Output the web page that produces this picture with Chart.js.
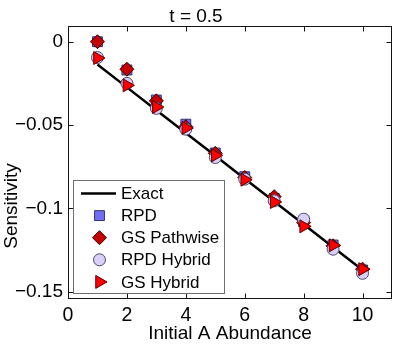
<!DOCTYPE html>
<html>
<head>
<meta charset="utf-8">
<script src="https://cdn.jsdelivr.net/npm/chart.js@4/dist/chart.umd.min.js"></script>
<style>
  html, body { margin: 0; padding: 0; background: #fff; }
  #wrap { width: 415px; height: 349px; }
</style>
</head>
<body>
<div id="wrap"><canvas id="sens"></canvas></div>
<script>
// values
var abundance = [1, 2, 3, 4, 5, 6, 7, 8, 9, 10];
var exact       = [-0.0137, -0.0274, -0.0411, -0.0548, -0.0685, -0.0822, -0.0959, -0.1096, -0.1233, -0.1370];
var rpd         = [0.0000, -0.0170, -0.0350, -0.0495, -0.0668, -0.0810, -0.0940, -0.1080, -0.1220, -0.1370];
var gsPathwise  = [0.0000, -0.0165, -0.0355, -0.0510, -0.0670, -0.0815, -0.0930, -0.1085, -0.1225, -0.1365];
var rpdHybrid   = [-0.0095, -0.0250, -0.0400, -0.0525, -0.0695, -0.0825, -0.0955, -0.1065, -0.1245, -0.1390];
var gsHybrid    = [-0.0098, -0.0262, -0.0392, -0.0518, -0.0682, -0.0828, -0.0962, -0.1108, -0.1222, -0.1365];
var xTicks = [0, 2, 4, 6, 8, 10];
var yTicks = [-0.15, -0.1, -0.05, 0];
var yLabel = 'Sensitivity';

var FONT = '"Liberation Sans", Arial, Helvetica, sans-serif';

function pts(ys) {
    return abundance.map(function(x, i) { return {x: x, y: ys[i]}; });
}

function fmtTick(v) {
    if (v === 0) return '0';
    return '\u2212' + String(Math.abs(v));
}

// MATLAB style box with ticks pointing inwards
var axesBox = {
    id: 'axesBox',
    afterDatasetsDraw: function(chart) {
        var ctx = chart.ctx, a = chart.chartArea;
        var xs = chart.scales.x, ys = chart.scales.y;
        var L = Math.round(a.left) + 0.5, R = Math.round(a.right) - 0.5;
        var T = Math.round(a.top) + 0.5, B = Math.round(a.bottom) - 0.5;
        ctx.save();
        ctx.strokeStyle = '#111';
        ctx.lineWidth = 1;
        ctx.strokeRect(L, T, R - L, B - T);
        ctx.beginPath();
        xTicks.forEach(function(v) {
            var px = Math.round(xs.getPixelForValue(v)) + 0.5;
            ctx.moveTo(px, B); ctx.lineTo(px, B - 5);
            ctx.moveTo(px, T); ctx.lineTo(px, T + 5);
        });
        yTicks.forEach(function(v) {
            var py = Math.round(ys.getPixelForValue(v)) + 0.5;
            ctx.moveTo(L, py); ctx.lineTo(L + 5, py);
            ctx.moveTo(R, py); ctx.lineTo(R - 5, py);
        });
        ctx.stroke();

        // y label sits low on the axis in the original
        ctx.fillStyle = '#000';
        ctx.font = '19px ' + FONT;
        ctx.textAlign = 'center';
        ctx.textBaseline = 'middle';
        ctx.translate(12, 206);
        ctx.rotate(-Math.PI / 2);
        ctx.fillText(yLabel, 0, 0);
        ctx.restore();
    }
};

// legend box in the lower left corner of the axes
var boxLegend = {
    id: 'boxLegend',
    afterDraw: function(chart) {
        var ctx = chart.ctx;
        var bx = 73.5, by = 180.5, bw = 151, bh = 113;
        var rowH = 22.1, sx = 99.5, tx = 121;
        ctx.save();
        ctx.fillStyle = '#fff';
        ctx.fillRect(bx, by, bw, bh);
        ctx.strokeStyle = '#6e6e6e';
        ctx.lineWidth = 1;
        ctx.strokeRect(bx, by, bw, bh);
        ctx.font = '17px ' + FONT;
        ctx.textBaseline = 'middle';
        chart.data.datasets.forEach(function(ds, i) {
            var y = by + 13 + i * rowH;
            if (ds.showLine) {
                ctx.strokeStyle = ds.borderColor;
                ctx.lineWidth = ds.borderWidth;
                ctx.beginPath();
                ctx.moveTo(81, y); ctx.lineTo(116, y);
                ctx.stroke();
            } else {
                ctx.fillStyle = ds.pointBackgroundColor;
                ctx.strokeStyle = ds.pointBorderColor;
                ctx.lineWidth = ds.pointBorderWidth;
                Chart.helpers.drawPoint(ctx, {
                    pointStyle: ds.pointStyle,
                    rotation: ds.pointRotation || 0,
                    radius: ds.pointRadius,
                    borderWidth: ds.pointBorderWidth
                }, sx, y);
            }
            ctx.fillStyle = '#000';
            ctx.fillText(ds.label, tx, y + 1);
        });
        ctx.restore();
    }
};

function markers(label, ys, style, fill, edge, radius, rot, order) {
    return {
        label: label,
        data: pts(ys),
        showLine: false,
        pointStyle: style,
        pointRotation: rot,
        pointRadius: radius,
        pointHoverRadius: radius,
        pointBackgroundColor: fill,
        pointBorderColor: edge,
        pointBorderWidth: 1,
        order: order
    };
}

var config = {
    type: 'scatter',
    data: {
        datasets: [
            {
                label: 'Exact',
                data: pts(exact),
                showLine: true,
                borderColor: '#000',
                borderWidth: 2.5,
                pointRadius: 0,
                order: 5
            },
            markers('RPD', rpd, 'rect', '#6f6ff5', '#33337a', 7, 0, 4),
            markers('GS Pathwise', gsPathwise, 'rectRot', '#c40000', '#3a0000', 7, 0, 3),
            markers('RPD Hybrid', rpdHybrid, 'circle', '#d9cff7', '#4a4a70', 6, 0, 2),
            markers('GS Hybrid', gsHybrid, 'triangle', '#ff0000', '#5a0000', 7.5, 90, 1)
        ]
    },
    options: {
        responsive: true,
        maintainAspectRatio: false,
        animation: false,
        layout: { padding: { top: 0, right: 23, left: 0, bottom: 0 } },
        plugins: {
            legend: { display: false },
            tooltip: { enabled: false },
            title: {
                display: true,
                text: 't = 0.5',
                color: '#000',
                font: { family: FONT, size: 19, weight: 'normal', lineHeight: 0.95 },
                padding: { top: 8, bottom: 0 }
            }
        },
        scales: {
            x: {
                type: 'linear',
                min: 0,
                max: 11,
                afterBuildTicks: function(s) { s.ticks = xTicks.map(function(v) { return {value: v}; }); },
                afterFit: function(s) { s.height = 50; },
                grid: { display: false, drawTicks: false },
                border: { display: false },
                ticks: {
                    color: '#000',
                    padding: 5,
                    maxRotation: 0,
                    font: { family: FONT, size: 19.5 },
                    callback: function(v) { return String(v); }
                },
                title: {
                    display: true,
                    text: 'Initial A Abundance',
                    color: '#000',
                    font: { family: FONT, size: 19 },
                    padding: { top: 0, bottom: 4 }
                }
            },
            y: {
                type: 'linear',
                min: -0.1544,
                max: 0.0094,
                afterBuildTicks: function(s) { s.ticks = yTicks.map(function(v) { return {value: v}; }); },
                afterFit: function(s) { s.width = 68; },
                grid: { display: false, drawTicks: false },
                border: { display: false },
                ticks: {
                    color: '#000',
                    padding: 5,
                    font: { family: FONT, size: 19 },
                    callback: function(v) { return fmtTick(v); }
                },
                title: { display: false }
            }
        }
    },
    plugins: [axesBox, boxLegend]
};

window.onload = function() {
    var ctx = document.getElementById('sens').getContext('2d');
    window.sensChart = new Chart(ctx, config);
};
</script>
</body>
</html>
